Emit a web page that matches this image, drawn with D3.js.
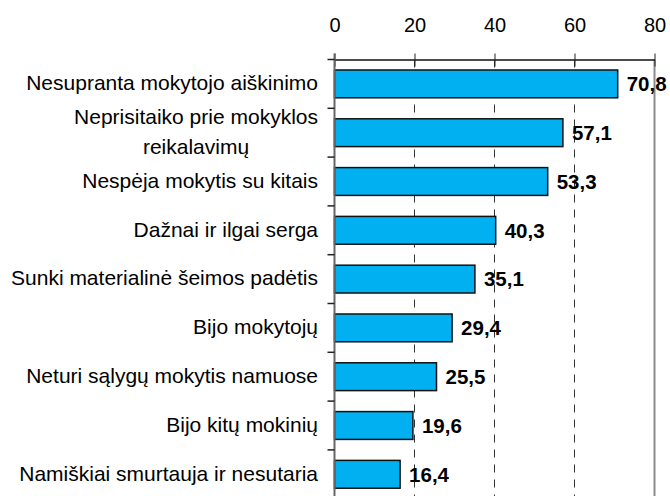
<!DOCTYPE html>
<html>
<head>
<meta charset="utf-8">
<script src="https://cdn.jsdelivr.net/npm/d3@7"></script>
<style>
  body { margin: 0; background: #fff; }
  svg { display: block; font-family: Arial, "Liberation Sans", sans-serif; }
</style>
</head>
<body>
<div class="chart"></div>
<script>
// data
var categories = [
  "Nesupranta mokytojo aiškinimo",
  "Neprisitaiko prie mokyklos|reikalavimų",
  "Nespėja mokytis su kitais",
  "Dažnai ir ilgai serga",
  "Sunki materialinė šeimos padėtis",
  "Bijo mokytojų",
  "Neturi sąlygų mokytis namuose",
  "Bijo kitų mokinių",
  "Namiškiai smurtauja ir nesutaria"
];
var values = [70.8, 57.1, 53.3, 40.3, 35.1, 29.4, 25.5, 19.6, 16.4];
var xTicks = [0, 20, 40, 60, 80];

var svgWidth = 670;
var svgHeight = 496;
var margin = { top: 59.5, left: 334.5, right: 15.5 };

var svg = d3.select(".chart")
  .append("svg")
  .attr("width", svgWidth)
  .attr("height", svgHeight);

var data = categories.map(function(c, i) { return { cat: c, val: values[i] }; });

var x = d3.scaleLinear().domain([0, 80]).range([margin.left, svgWidth - margin.right]);
var y = d3.scaleBand()
  .domain(categories)
  .range([margin.top, margin.top + 48.8 * categories.length])
  .paddingInner(0.43)
  .paddingOuter(0.215);

// dashed gridlines
svg.append("g")
  .selectAll("line")
  .data(xTicks.slice(1, -1))
  .enter()
  .append("line")
  .attr("x1", function(d) { return x(d); })
  .attr("x2", function(d) { return x(d); })
  .attr("y1", margin.top)
  .attr("y2", svgHeight)
  .attr("stroke", "#333")
  .attr("stroke-width", 1)
  .attr("stroke-dasharray", "8,7");

// right border of plot area
svg.append("line")
  .attr("x1", x(80)).attr("x2", x(80))
  .attr("y1", margin.top).attr("y2", svgHeight)
  .attr("stroke", "#8a8a8a")
  .attr("stroke-width", 2);

// bars
svg.append("g")
  .selectAll("rect")
  .data(data)
  .enter()
  .append("rect")
  .attr("x", x(0))
  .attr("y", function(d) { return y(d.cat); })
  .attr("width", function(d) { return x(d.val) - x(0); })
  .attr("height", y.bandwidth())
  .attr("fill", "#00b0f0")
  .attr("stroke", "#111")
  .attr("stroke-width", 1.5);

// top axis
var topAxis = d3.axisTop(x)
  .tickValues(xTicks)
  .tickSize(6)
  .tickPadding(21.5)
  .tickSizeOuter(0);
var gTop = svg.append("g")
  .attr("transform", "translate(0," + margin.top + ")")
  .call(topAxis);
gTop.select(".domain").attr("stroke", "#111").attr("stroke-width", 1.5);
gTop.selectAll(".tick line").attr("y2", 7).attr("y1", -6).attr("stroke", "#222");
gTop.selectAll(".tick text")
  .style("font-size", "20px")
  .style("font-family", "Arial, 'Liberation Sans', sans-serif")
  .attr("fill", "#000");

// left axis line and ticks
var tickYs = d3.range(categories.length).map(function(i) { return margin.top + y.step() * i; });
svg.append("line")
  .attr("x1", x(0)).attr("x2", x(0))
  .attr("y1", margin.top - 6).attr("y2", svgHeight)
  .attr("stroke", "#666")
  .attr("stroke-width", 2);
svg.append("g")
  .selectAll("line")
  .data(tickYs)
  .enter()
  .append("line")
  .attr("x1", x(0) - 7).attr("x2", x(0))
  .attr("y1", function(d) { return d; })
  .attr("y2", function(d) { return d; })
  .attr("stroke", "#222")
  .attr("stroke-width", 1.5);

// category labels (right aligned, wrapped ones centred as a block)
var labelRight = 318;
var catFont = 21;
data.forEach(function(d) {
  var lines = d.cat.split("|");
  var cy = y(d.cat) + y.bandwidth() / 2;
  var lineH = 30;
  var t = svg.append("text")
    .style("font-size", catFont + "px")
    .attr("fill", "#000");
  lines.forEach(function(l, i) {
    t.append("tspan")
      .attr("y", cy - 1 + (i - (lines.length - 1) / 2) * lineH)
      .attr("dy", "0.35em")
      .text(l);
  });
  if (lines.length === 1) {
    t.attr("text-anchor", "end").selectAll("tspan").attr("x", labelRight);
  } else {
    var maxW = 0;
    t.selectAll("tspan").each(function() {
      maxW = Math.max(maxW, this.getComputedTextLength());
    });
    t.attr("text-anchor", "middle").selectAll("tspan").attr("x", labelRight - maxW / 2);
  }
});

// value labels
svg.append("g")
  .selectAll("text")
  .data(data)
  .enter()
  .append("text")
  .attr("x", function(d) { return x(d.val) + 9; })
  .attr("y", function(d) { return y(d.cat) + y.bandwidth() / 2; })
  .attr("dy", "0.36em")
  .style("font-size", "20.5px")
  .style("font-weight", "bold")
  .attr("fill", "#000")
  .text(function(d) { return String(d.val).replace(".", ","); });
</script>
</body>
</html>
